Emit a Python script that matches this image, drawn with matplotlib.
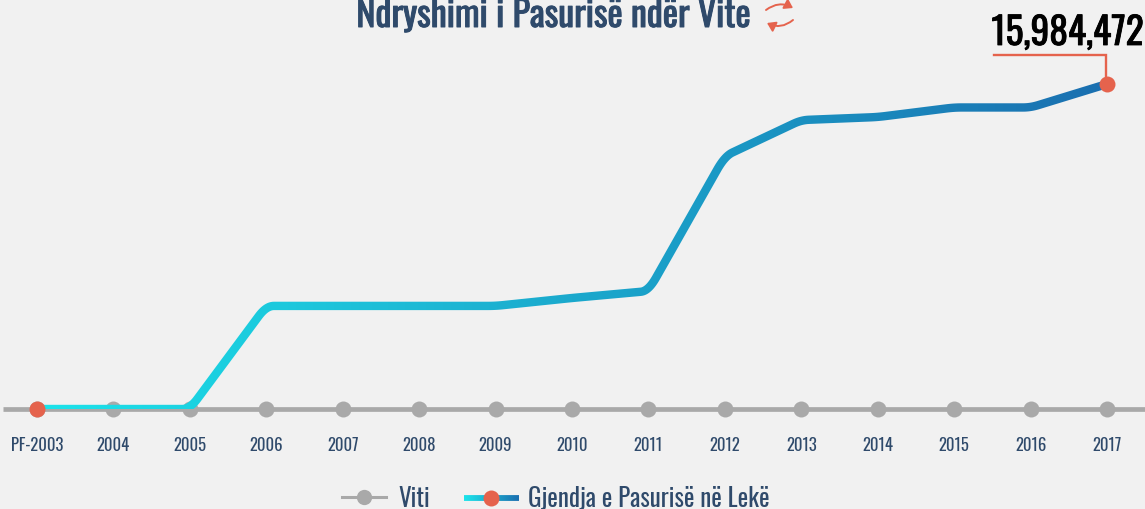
import numpy as np
import matplotlib
matplotlib.use("Agg")
import matplotlib.pyplot as plt
import matplotlib.patheffects as pe
from matplotlib.collections import LineCollection
from matplotlib.colors import LinearSegmentedColormap
from matplotlib.lines import Line2D
from matplotlib.patches import FancyArrowPatch, PathPatch
from matplotlib.path import Path
from matplotlib.transforms import Affine2D, IdentityTransform

W, H = 1145, 509
BG = "#f1f1f1"
NAVY = "#2f4a6b"
GRIS = "#a9a9a9"
ROJO = "#e5634d"

anios = ["PF-2003", "2004", "2005", "2006", "2007", "2008", "2009", "2010",
         "2011", "2012", "2013", "2014", "2015", "2016", "2017"]
pasuria = [0, 0, 0, 5070000, 5070000, 5070000, 5070000, 5460000,
           5800000, 12440000, 14210000, 14360000, 14830000, 14830000, 15984472]

plt.rcParams["font.family"] = ["Oswald", "Liberation Sans", "DejaVu Sans"]

gradiente = LinearSegmentedColormap.from_list("g", ["#1ce3ea", "#1a6fb0"])


def suavizar(x, y, r=0.1, n=14):
    # redondea las esquinas de la linea con una curva cuadratica
    xs, ys = [x[0]], [y[0]]
    for i in range(1, len(x) - 1):
        a = np.array([x[i - 1], y[i - 1]], float)
        b = np.array([x[i], y[i]], float)
        c = np.array([x[i + 1], y[i + 1]], float)
        p0 = b + (a - b) * r
        p2 = b + (c - b) * r
        for t in np.linspace(0, 1, n):
            p = (1 - t) ** 2 * p0 + 2 * t * (1 - t) * b + t ** 2 * p2
            xs.append(p[0])
            ys.append(p[1])
    xs.append(x[-1])
    ys.append(y[-1])
    return np.array(xs), np.array(ys)


def contorno(puntos, ancho):
    # contorno de la linea en pixeles, para recortar el gradiente
    d = np.gradient(puntos, axis=0)
    d = d / np.maximum(np.hypot(d[:, 0], d[:, 1]), 1e-9)[:, None]
    normal = np.column_stack([-d[:, 1], d[:, 0]]) * ancho / 2
    return np.vstack([puntos + normal, (puntos - normal)[::-1]])


fig = plt.figure(figsize=(W / 100, H / 100), dpi=100, facecolor=BG)
px = Affine2D().scale(1 / W, -1 / H).translate(0, 1) + fig.transFigure

# el eje ocupa desde arriba hasta la linea base (y=409 px)
ax = fig.add_axes([0, 1 - 409 / H, 1, 409 / H], facecolor="none")
xs_idx = np.arange(len(anios))
escala = 15984472 / 325
limx = ((0 - 37) / 76.43, (W - 37) / 76.43)
limy = (0, 409 * escala)
ax.set_xlim(limx)
ax.set_ylim(limy)
for s in ax.spines.values():
    s.set_visible(False)
ax.set_yticks([])
ax.set_xticks(xs_idx)
ax.set_xticklabels(anios, fontsize=12, color=NAVY)
ax.tick_params(axis="x", length=0, pad=20.5)

# linea base con los puntos de cada año
ax.add_artist(Line2D([3, W], [409, 409], color=GRIS, lw=3.4, transform=px, clip_on=False,
                     solid_capstyle="butt", zorder=1))
ax.plot(xs_idx, np.zeros(len(xs_idx)), "o", color=GRIS, ms=11.5, mew=0, clip_on=False, zorder=2)

# linea de la pasuria con gradiente horizontal
xl, yl = suavizar(xs_idx, pasuria)
borde = contorno(ax.transData.transform(np.column_stack([xl, yl])), 8.4)
recorte = PathPatch(Path(np.vstack([borde, borde[:1]]), closed=True), transform=IdentityTransform())
img = ax.imshow(np.linspace(0, 1, 256)[None, :], cmap=gradiente, aspect="auto", zorder=3,
                extent=(xs_idx[0], xs_idx[-1], -5 * escala, limy[1]))
img.set_clip_path(recorte)
ax.set_xlim(limx)
ax.set_ylim(limy)

# primer y ultimo punto en rojo
ax.plot([xs_idx[0], xs_idx[-1]], [pasuria[0], pasuria[-1]], "o", color=ROJO, ms=11.5,
        mew=0, clip_on=False, zorder=5)

# etiqueta del ultimo valor
ax.add_artist(Line2D([994, 1106, 1106], [55.5, 55.5, 84], color=ROJO, lw=1.7, clip_on=False,
                     transform=px, solid_joinstyle="miter", zorder=4))
fig.text(1067.5, 45, f"{pasuria[-1]:,}", transform=px, ha="center", va="baseline",
         fontsize=27, color="black", path_effects=[pe.withStroke(linewidth=0.6, foreground="black")])

# titulo e icono
fig.text(553.5, 27, "Ndryshimi i Pasurisë ndër Vite", transform=px, ha="center", va="baseline",
         fontsize=26, color=NAVY, path_effects=[pe.withStroke(linewidth=0.7, foreground=NAVY)])
for a, b in [((766, 10), (793, 8)), ((793, 20), (767, 23))]:
    flecha = FancyArrowPatch(a, b, transform=px, connectionstyle="arc3,rad=-0.32",
                             arrowstyle="-|>,head_length=3,head_width=2", color=ROJO,
                             lw=1.4, shrinkA=0, shrinkB=0, mutation_scale=1.6)
    fig.add_artist(flecha)

# leyenda
fig.add_artist(Line2D([342, 386], [497, 497], color=GRIS, lw=2.2, transform=px))
fig.add_artist(Line2D([364], [497], marker="o", color=GRIS, ms=11, mew=0, transform=px))
fig.text(398, 507, "Viti", transform=px, va="baseline", fontsize=18, color=NAVY)
xley = np.linspace(464, 519, 56)
tramos = np.stack([np.column_stack([xley[:-1], np.full(55, 498.0)]),
                   np.column_stack([xley[1:], np.full(55, 498.0)])], axis=1)
ley = LineCollection(tramos, cmap=gradiente, linewidths=4.2, capstyle="butt", transform=px, zorder=3)
ley.set_array(np.linspace(0, 1, 55))
fig.add_artist(ley)
fig.add_artist(Line2D([491], [498], marker="o", color=ROJO, ms=11.5, mew=0, transform=px, zorder=4))
fig.text(528, 507, "Gjendja e Pasurisë në Lekë", transform=px, va="baseline", fontsize=18, color=NAVY)

fig.savefig("out.png", dpi=100, facecolor=BG)
